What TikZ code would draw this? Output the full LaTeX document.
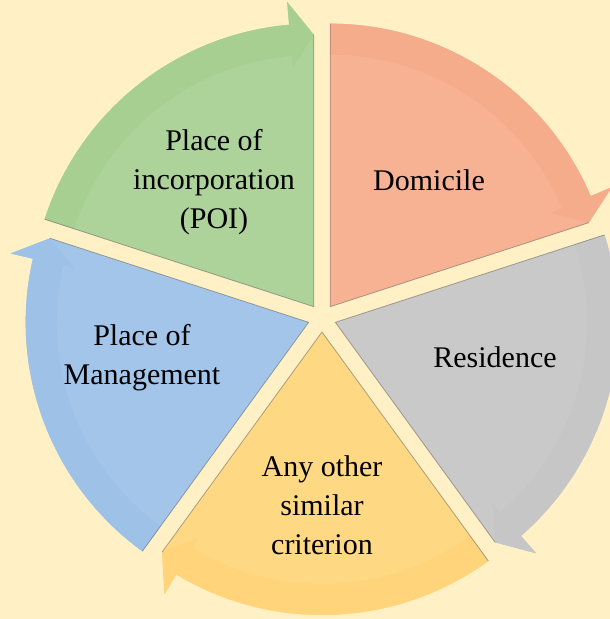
\documentclass[tikz,border=0pt]{standalone}
\usepackage{fontspec}
\setmainfont{Liberation Serif}
\usepackage{tikz}
\usetikzlibrary{calc,positioning}
\definecolor{bgcream}{RGB}{255,240,197}
\definecolor{poigreen}{RGB}{167,207,145}
\definecolor{poigreenlt}{RGB}{173,211,154}
\definecolor{domred}{RGB}{245,172,138}
\definecolor{domredlt}{RGB}{246,178,147}
\definecolor{resgray}{RGB}{198,198,198}
\definecolor{resgraylt}{RGB}{201,201,201}
\definecolor{anyyellow}{RGB}{255,212,122}
\definecolor{anyyellowlt}{RGB}{255,216,132}
\definecolor{pomblue}{RGB}{158,194,231}
\definecolor{pombluelt}{RGB}{163,197,233}

\begin{document}
\begin{tikzpicture}[x=1pt, y=1pt,
    segtext/.style={align=center, font=\fontsize{30}{39}\selectfont, text=black},
    segedge/.style={draw=black!65, line width=0.8pt, opacity=0.5}
]
    % Background
    \useasboundingbox (-322,-301) rectangle (288,318);
    \fill[bgcream] (-322,-301) rectangle (288,318);

    % Sectors (mid angle / name / body / arrow band)
    \begin{scope}
    \clip (-322,-301) rectangle (288,318);
    \foreach \m/\n/\body/\band in {126/poi/poigreenlt/poigreen, 54/dom/domredlt/domred,
        -18/res/resgraylt/resgray, -90/any/anyyellowlt/anyyellow, -162/pom/pombluelt/pomblue}{
        \pgfmathsetmacro{\s}{\m+36}
        \pgfmathsetmacro{\e}{\m-36}
        \pgfmathsetmacro{\h}{\m-31}
        \coordinate (c\n) at (\m:14);
        \fill[\body] (c\n) -- ($(c\n)+(\s:283)$) arc[start angle=\s, end angle=\h, radius=283]
            -- ($(c\n)+(\h:306)$) -- ($(c\n)+(\e:272)$) -- cycle;
        \fill[\band] ($(c\n)+(\s:283)$) arc[start angle=\s, end angle=\h, radius=283]
            -- ($(c\n)+(\h:252)$) arc[start angle=\h, end angle=\s, radius=252] -- cycle;
        \fill[\band] ($(c\n)+(\h:240)$) -- ($(c\n)+(\h:306)$) -- ($(c\n)+(\e:272)$) -- cycle;
        \draw[segedge] ($(c\n)+(\s:283)$) -- (c\n) -- ($(c\n)+(\e:272)$);
    }
    \end{scope}

    % Nodes
    \node[segtext] (poi) at (-108,136) {Place of\\incorporation\\(POI)};
    \node[segtext] (dom) at (107,138) {Domicile};
    \node[segtext] (res) at (173,-39) {Residence};
    \node[segtext] (any) at (0,-187) {Any other\\similar\\criterion};
    \node[segtext] (pom) at (-180,-40) {Place of\\Management};
\end{tikzpicture}
\end{document}
